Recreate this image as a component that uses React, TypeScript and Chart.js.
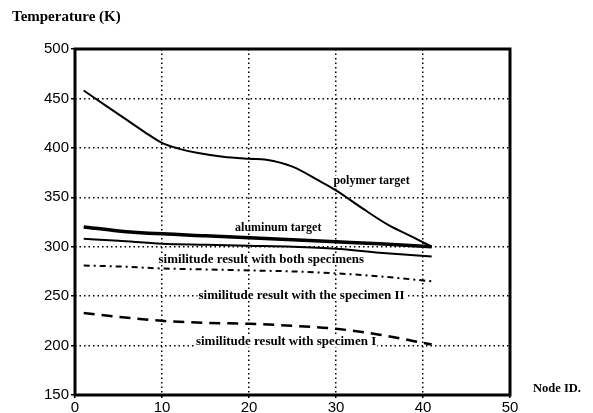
import React, { useEffect, useRef } from "react";
import { Chart, registerables } from "chart.js";

Chart.register(...registerables);

// Node IDs and temperatures (K)
const polymerNodes = [1, 2, 4, 6, 8, 10, 12, 14, 17, 20, 22, 25, 28, 30, 33, 36, 39, 41];
const polymerTemps = [458, 452, 440, 428, 416, 405, 399, 395, 391, 389, 388, 381, 367, 357, 339, 322, 309, 300];

const seriesNodes = [1, 5, 10, 15, 20, 25, 30, 35, 41];
const aluminumTemps = [320, 316, 313, 311, 309, 307, 305, 303, 300];
const bothTemps = [308, 306, 303, 302, 301, 300, 298, 294, 290];
const specimenIITemps = [281, 280, 278, 277, 276, 275, 273, 270, 265];
const specimenITemps = [233, 229, 225, 223, 222, 220, 217, 211, 201];

const xTicks = [0, 10, 20, 30, 40, 50];
const yTicks = [150, 200, 250, 300, 350, 400, 450, 500];

const yTitle = "Temperature (K)";
const xTitle = "Node ID.";

// Curve labels anchored in data coordinates (node, temperature)
const labelTexts = [
  "polymer target",
  "aluminum target",
  "similitude result with both specimens",
  "similitude result with the specimen II",
  "similitude result with specimen I",
];
const labelNodes = [29.7, 18.4, 9.6, 14.2, 13.9];
const labelTemps = [367, 319, 286.5, 251, 203.5];
const labelSizes = [12, 12, 13, 13, 13];

const toPts = (xs: number[], ys: number[]) => xs.map((x, i) => ({ x, y: ys[i] }));

const SERIF = '"Liberation Serif", "DejaVu Serif", serif';
const SANS = '"Liberation Sans", Arial, sans-serif';

export default function App() {
  const ref = useRef<HTMLCanvasElement | null>(null);

  useEffect(() => {
    if (!ref.current) return;

    const decor = {
      id: "decor",
      beforeDatasetsDraw(chart: any) {
        const { ctx, scales } = chart;
        ctx.save();
        ctx.textBaseline = "middle";
        ctx.textAlign = "left";
        labelTexts.forEach((t, i) => {
          ctx.font = `bold ${labelSizes[i]}px ${SERIF}`;
          const px = scales.x.getPixelForValue(labelNodes[i]);
          const py = scales.y.getPixelForValue(labelTemps[i]);
          const w = ctx.measureText(t).width;
          ctx.fillStyle = "#fff";
          ctx.fillRect(px - 1, py - 5, w + 2, 10);
          ctx.fillStyle = "#000";
          ctx.fillText(t, px, py);
        });
        ctx.restore();
      },
      afterDatasetsDraw(chart: any) {
        const { ctx, chartArea } = chart;
        ctx.save();
        ctx.strokeStyle = "#000";
        ctx.lineWidth = 3;
        ctx.strokeRect(
          chartArea.left,
          chartArea.top,
          chartArea.right - chartArea.left,
          chartArea.bottom - chartArea.top
        );
        ctx.fillStyle = "#000";
        ctx.font = `bold 15px ${SERIF}`;
        ctx.textBaseline = "middle";
        ctx.textAlign = "left";
        ctx.fillText(yTitle, 12, 17);
        ctx.font = `bold 12.5px ${SERIF}`;
        ctx.fillText(xTitle, 533, 389);
        ctx.restore();
      },
    };

    const lineBase = {
      borderColor: "#000",
      pointRadius: 0,
      cubicInterpolationMode: "monotone",
    };

    const chart = new Chart(ref.current, {
      type: "line",
      data: {
        datasets: [
          { ...lineBase, label: labelTexts[0], data: toPts(polymerNodes, polymerTemps), borderWidth: 2 },
          { ...lineBase, label: labelTexts[1], data: toPts(seriesNodes, aluminumTemps), borderWidth: 3.5 },
          { ...lineBase, label: labelTexts[2], data: toPts(seriesNodes, bothTemps), borderWidth: 2 },
          {
            ...lineBase,
            label: labelTexts[3],
            data: toPts(seriesNodes, specimenIITemps),
            borderWidth: 2,
            borderDash: [6, 4, 2, 4],
          },
          {
            ...lineBase,
            label: labelTexts[4],
            data: toPts(seriesNodes, specimenITemps),
            borderWidth: 2.5,
            borderDash: [11, 7],
          },
        ],
      },
      options: {
        responsive: false,
        animation: false,
        devicePixelRatio: 1,
        layout: { padding: { left: 0, top: 49, right: 83, bottom: 0 } },
        plugins: { legend: { display: false }, tooltip: { enabled: false } },
        scales: {
          x: {
            type: "linear",
            min: 0,
            max: 50,
            afterBuildTicks: (s: any) => {
              s.ticks = xTicks.map((v) => ({ value: v }));
            },
            afterFit: (s: any) => {
              s.height = 18;
            },
            ticks: {
              color: "#000",
              font: { family: SANS, size: 15 },
              padding: 1,
              maxRotation: 0,
            },
            grid: {
              color: "#000",
              lineWidth: 1.5,
              tickLength: 3,
              tickBorderDash: [],
              tickColor: "#000",
              tickWidth: 1.5,
            },
            border: { display: false, dash: [1.5, 3] },
          },
          y: {
            type: "linear",
            min: 150,
            max: 500,
            afterBuildTicks: (s: any) => {
              s.ticks = yTicks.map((v) => ({ value: v }));
            },
            afterFit: (s: any) => {
              s.width = 75;
            },
            ticks: {
              color: "#000",
              font: { family: SANS, size: 15 },
              padding: 2,
            },
            grid: {
              color: "#000",
              lineWidth: 1.5,
              tickLength: 4,
              tickBorderDash: [],
              tickColor: "#000",
              tickWidth: 1.5,
            },
            border: { display: false, dash: [1.5, 3] },
          },
        },
      },
      plugins: [decor],
    } as any);

    return () => chart.destroy();
  }, []);

  return (
    <div style={{ position: "fixed", left: 0, top: 0, width: 593, height: 413, background: "#fff" }}>
      <canvas ref={ref} width={593} height={413} style={{ display: "block", width: 593, height: 413 }} />
    </div>
  );
}
